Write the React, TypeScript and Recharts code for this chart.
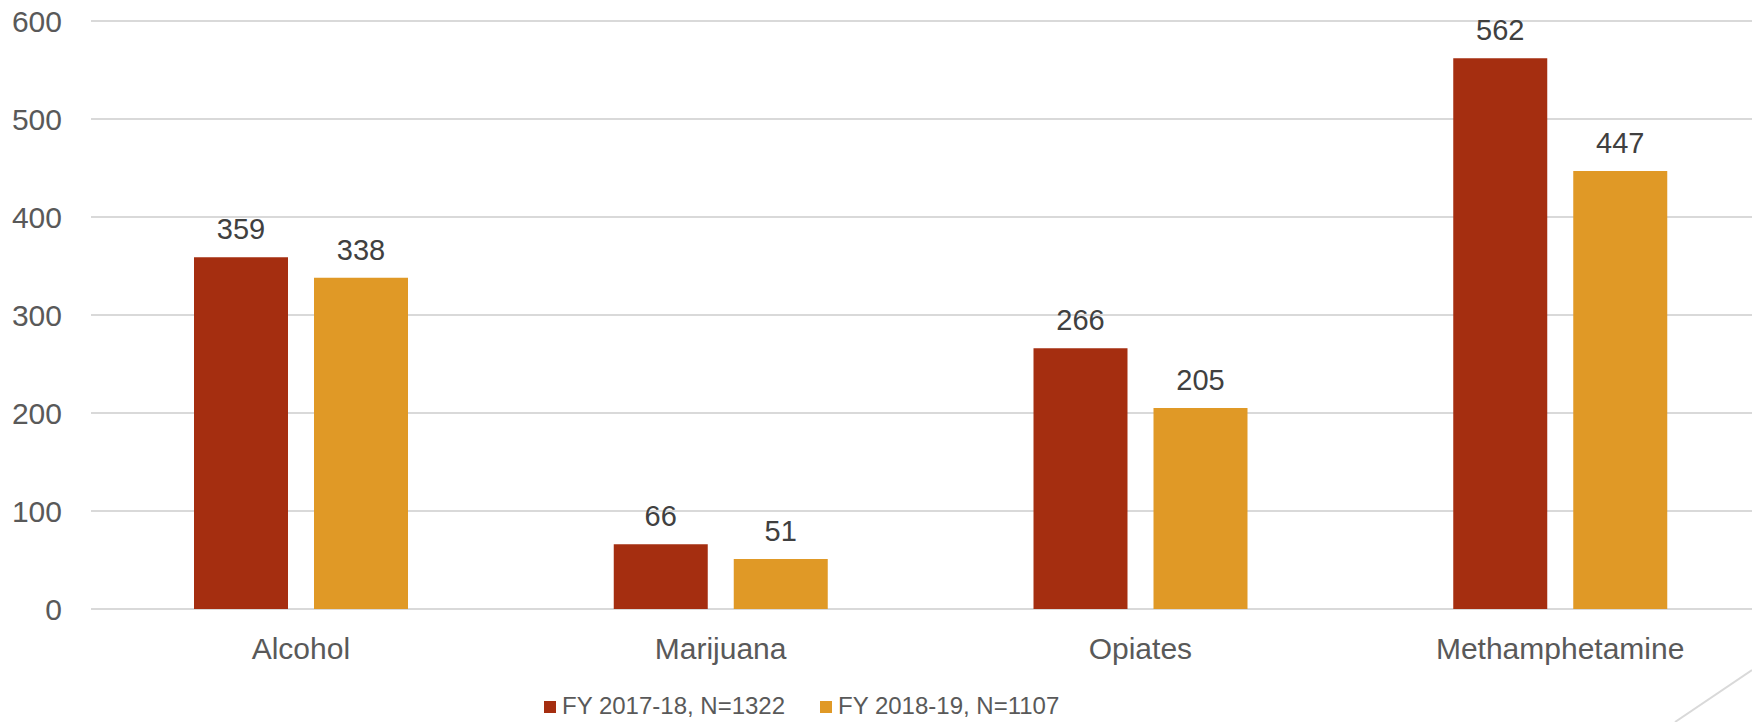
import { BarChart, Bar, XAxis, YAxis, CartesianGrid, Legend, LabelList } from 'recharts'

const categories = ['Alcohol', 'Marijuana', 'Opiates', 'Methamphetamine']
const fy1718 = [359, 66, 266, 562]
const fy1819 = [338, 51, 205, 447]
const yTicks = [0, 100, 200, 300, 400, 500, 600]

const seriesNames = ['FY 2017-18, N=1322', 'FY 2018-19, N=1107']
const RED = '#A52E10'
const ORANGE = '#E09926'
const FONT = '"Liberation Sans", Arial, sans-serif'

const data = categories.map((name, i) => ({ name, a: fy1718[i], b: fy1819[i] }))

// legend sits off-centre in the original slide, so it's drawn by hand
function SlideLegend() {
  const items = [
    { label: seriesNames[0], color: RED, left: 544 },
    { label: seriesNames[1], color: ORANGE, left: 820 },
  ]
  return (
    <svg width={1752} height={66} style={{ display: 'block' }}>
      {items.map((it) => (
        <g key={it.label}>
          <rect x={it.left} y={45} width={12} height={12} fill={it.color} />
          <text x={it.left + 18} y={58} fontFamily={FONT} fontSize={24} fill="#595959">
            {it.label}
          </text>
        </g>
      ))}
    </svg>
  )
}

export default function App() {
  return (
    <div style={{ position: 'absolute', left: 0, top: 0, width: 1752, height: 722, overflow: 'hidden', background: '#fff' }}>
      <BarChart
        width={1780}
        height={722}
        data={data}
        margin={{ top: 21, right: 10, bottom: 0, left: 0 }}
        barGap={26}
        barSize={94}
      >
        <CartesianGrid vertical={false} stroke="#D9D9D9" strokeWidth={2} />
        <XAxis
          dataKey="name"
          height={47}
          tickLine={false}
          axisLine={false}
          tickMargin={23}
          tick={{ fontSize: 30, fill: '#595959', fontFamily: FONT }}
        />
        <YAxis
          width={91}
          domain={[0, 600]}
          ticks={yTicks}
          tickLine={false}
          axisLine={false}
          tickMargin={23}
          tick={{ fontSize: 30, fill: '#595959', fontFamily: FONT }}
        />
        <Legend verticalAlign="bottom" content={() => <SlideLegend />} />
        <Bar dataKey="a" name={seriesNames[0]} fill={RED} isAnimationActive={false}>
          <LabelList
            dataKey="a"
            position="top"
            offset={18}
            style={{ fontSize: 29, fill: '#404040', fontFamily: FONT }}
          />
        </Bar>
        <Bar dataKey="b" name={seriesNames[1]} fill={ORANGE} isAnimationActive={false}>
          <LabelList
            dataKey="b"
            position="top"
            offset={18}
            style={{ fontSize: 29, fill: '#404040', fontFamily: FONT }}
          />
        </Bar>
      </BarChart>
      <svg width={1752} height={722} style={{ position: 'absolute', left: 0, top: 0, pointerEvents: 'none' }}>
        <line x1={1675} y1={722} x2={1752} y2={670} stroke="#D9D9D9" strokeWidth={2} />
      </svg>
    </div>
  )
}
